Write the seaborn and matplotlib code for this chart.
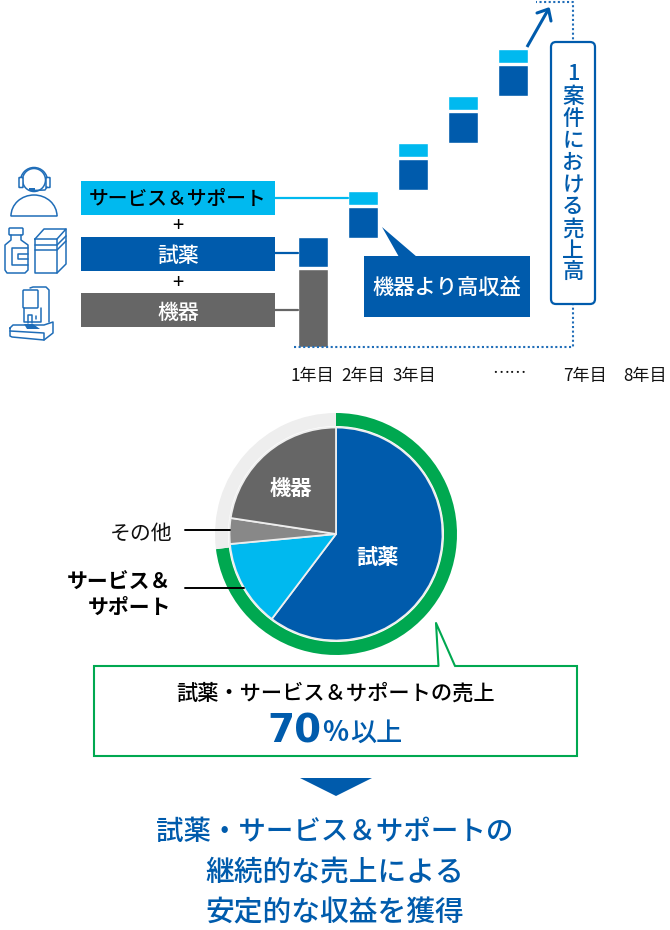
import matplotlib
matplotlib.use("Agg")
import matplotlib.pyplot as plt
from matplotlib.patches import Rectangle, Polygon, FancyBboxPatch, Circle, Arc
import seaborn as sns

sns.set_style("white")
plt.rcParams['font.family'] = ['Noto Sans CJK JP', 'DejaVu Sans']

BLUE = "#005BAC"
CYAN = "#00B9EF"
GRAY = "#666666"
MID = "#888888"
GREEN = "#00A850"
LIGHT = "#EEEEEE"
LINE = "#1F6DB8"
AMP = "\uff06"

# data
bar_years = ["1年目", "2年目", "3年目", "4年目", "5年目"]
base_sales = [0, 109, 157, 204, 251]
device_sales = [78, 0, 0, 0, 0]
reagent_sales = [30, 31, 31, 31, 31]
service_sales = [0, 14, 14, 14, 14]
axis_labels = ["1年目", "2年目", "3年目", "……", "7年目", "8年目"]
pie_labels = ["試薬", "サービス" + AMP + "サポート", "その他", "機器"]
pie_values = [60.3, 13.2, 3.9, 22.6]
ring_values = [73, 27]

W, H = 670, 930
fig = plt.figure(figsize=(W / 100, H / 100), dpi=100, facecolor="white")

# overlay in pixel coordinates, above the bars and the pie
ov = fig.add_axes([0, 0, 1, 1], zorder=3)
ov.set_xlim(0, W); ov.set_ylim(H, 0); ov.axis("off")

def T(x, y, s, size=14, color="black", weight=500, ha="center", va="center", zorder=5, **kw):
    return ov.text(x, y + 0.1 * size, s, fontsize=size, color=color, fontweight=weight,
                   ha=ha, va=va, zorder=zorder, **kw)

def rect(x0, y0, x1, y1, **kw):
    ov.add_patch(Rectangle((x0, y0), x1 - x0, y1 - y0, **kw))

# dotted guide
dot = dict(color=LINE, lw=1.5, linestyle=(0, (1, 1.2)), zorder=1)
ov.plot([294, 573, 573, 536], [347.5, 347.5, 2, 2], **dot)

# legend bars
for y0, col in zip([181, 237, 293], [CYAN, BLUE, GRAY]):
    rect(81, y0, 275, y0 + 34, fc=col, ec="none")
T(178, 198, "サービス" + AMP + "サポート", 14.2)
T(178, 254, "試薬", 15, "white")
T(178, 311, "機器", 15, "white")
T(178, 224, "+", 14.5, weight=400); T(178, 281, "+", 14.5, weight=400)
ov.plot([275, 348], [198, 198], color=CYAN, lw=1.6, zorder=1)
ov.plot([275, 298], [253, 253], color=BLUE, lw=1.6, zorder=1)
ov.plot([275, 298], [310, 310], color=GRAY, lw=1.6, zorder=1)

# bars
ab = fig.add_axes([288 / W, 1 - 347.5 / H, 250 / W, 347.5 / H], zorder=2)
ab.patch.set_alpha(0)
gap = 2
dev_top = [b + d for b, d in zip(base_sales, device_sales)]
rea_bot = [t + gap if d else t for t, d in zip(dev_top, device_sales)]
rea_top = [b + r for b, r in zip(rea_bot, reagent_sales)]
srv_bot = [t + gap for t in rea_top]
sns.barplot(x=bar_years, y=device_sales, bottom=base_sales, color=GRAY, saturation=1, width=0.6, errorbar=None, ax=ab)
sns.barplot(x=bar_years, y=reagent_sales, bottom=rea_bot, color=BLUE, saturation=1, width=0.6, errorbar=None, ax=ab)
sns.barplot(x=bar_years, y=service_sales, bottom=srv_bot, color=CYAN, saturation=1, width=0.6, errorbar=None, ax=ab)
ab.set_xlim(-0.5, 4.5); ab.set_ylim(0, 347.5)
ab.axis("off")

for x, s in zip([312, 363, 414, 510, 585, 645], axis_labels):
    T(x, 375 if s != "……" else 373, s, 12.3, "#111111", 400)

# arrow
ov.plot([527, 548], [47, 10], color=BLUE, lw=2.2, zorder=3, solid_capstyle="butt")
ov.plot([537, 548.5, 551], [13, 9, 21], color=BLUE, lw=2.2, zorder=3)

# vertical label
ov.add_patch(FancyBboxPatch((555, 46), 36, 254, boxstyle="round,pad=4,rounding_size=5",
                            fc="white", ec=BLUE, lw=1.6, zorder=3))
T(573, 72.5, "1", 15.5, BLUE)
for i, ch in enumerate("案件における売上高"):
    T(573, 95 + 22.1 * i, ch, 15.5, BLUE)

# callout
rect(364, 256, 530, 317, fc=BLUE, ec="none", zorder=2)
ov.add_patch(Polygon([(382, 227), (399, 257), (417, 257)], fc=BLUE, ec="none", zorder=2))
T(447, 286, "機器より高収益", 15.3, "white")

# icons
ik = dict(color=LINE, lw=1.1, zorder=4)
ov.add_patch(Circle((34, 180), 11.5, fc="none", ec=LINE, lw=1.1))
ov.add_patch(Arc((34, 181), 27, 27, theta1=180, theta2=360, ec=LINE, lw=1.1))
for x0 in (19, 46):
    ov.add_patch(FancyBboxPatch((x0 + .5, 178), 3, 9, boxstyle="round,pad=0.5", fc="white", ec=LINE, lw=1.1))
ov.plot([47, 45, 33], [187, 190, 190.5], **ik)
ov.add_patch(Rectangle((29, 188.5), 6, 2.5, fc=LINE, ec="none"))
ov.add_patch(Arc((34, 216), 46, 42, theta1=180, theta2=360, ec=LINE, lw=1.1))
ov.plot([11, 57], [216, 216], **ik)
# bottle
ov.add_patch(FancyBboxPatch((10, 229), 12, 5, boxstyle="round,pad=1", fc="none", ec=LINE, lw=1.1))
ov.plot([11, 11, 5, 5, 7, 25, 28, 28, 21, 21], [235, 240, 245, 270, 273, 273, 270, 245, 240, 235], **ik)
ov.plot([28, 12, 12, 28], [248, 248, 265, 265], **ik)
ov.plot([28, 18, 18, 28], [254, 254, 259, 259], **ik)
# box
ov.plot([35, 35, 57, 57, 35], [239, 273, 273, 239, 239], **ik)
ov.plot([35, 44, 66, 57], [239, 229, 229, 239], **ik)
ov.plot([66, 66, 57], [229, 264, 273], **ik)
ov.plot([35, 57, 66], [245, 245, 236], **ik)
ov.plot([35, 57, 66], [250, 250, 241], **ik)
# instrument
ov.add_patch(FancyBboxPatch((24, 291), 13, 16, boxstyle="round,pad=1", fc="none", ec=LINE, lw=1.1))
ov.plot([30, 33, 46, 49, 49], [288, 287, 287, 290, 322], **ik)
ov.plot([24, 24, 41, 41], [308, 322, 322, 308], **ik)
ov.plot([28, 28, 32, 32], [323, 315, 315, 323], **ik)
ov.plot([36, 36], [316, 319], **ik)
ov.plot([10, 13, 44, 53, 53, 44, 12, 10, 10], [328, 325, 325, 322, 333, 340, 337, 336, 328], **ik)
ov.plot([10, 44, 44], [331, 333, 340], **ik)
ov.add_patch(Polygon([(24, 324), (33, 324), (40, 329), (27, 329)], fc=LINE, ec="none", zorder=4))

# pie
cx, cy, R = 336, 534, 130
ap = fig.add_axes([(cx - R) / W, 1 - (cy + R) / H, 2 * R / W, 2 * R / H], zorder=2)
ap.patch.set_alpha(0)
ap.pie(ring_values, radius=121, startangle=90, counterclock=False, colors=[GREEN, LIGHT],
       wedgeprops=dict(width=13, linewidth=0))
ap.pie(pie_values, radius=106.5, startangle=90, counterclock=False,
       colors=[BLUE, CYAN, MID, GRAY], wedgeprops=dict(edgecolor="#EEEEEE", linewidth=1.3))
ap.set_xlim(-R, R); ap.set_ylim(-R, R); ap.set_aspect("equal")
T(378, 556, "試薬", 15.3, "white", 700)
T(291, 487, "機器", 15.3, "white", 700)

T(172, 532, "その他", 15, "#111111", 400, ha="right")
T(171, 581, "サービス" + AMP, 15, "black", 700, ha="right")
T(171, 606, "サポート", 15, "black", 700, ha="right")
ov.plot([185, 230], [530, 530], color="black", lw=1.4, zorder=5)
ov.plot([185, 244], [588, 588], color="black", lw=1.4, zorder=5)

# green box
rect(94, 666, 577, 756, fc="white", ec=GREEN, lw=1.5, zorder=1)
ov.add_patch(Polygon([(438.5, 667), (436, 623), (455, 667)], fc="white", ec="none", zorder=1.5, closed=False))
ov.plot([438.5, 436, 455], [666, 623, 666], color=GREEN, lw=1.5, zorder=1.6)
rect(439, 663, 454, 668, fc="white", ec="none", zorder=1.5)
T(336, 692, "試薬・サービス" + AMP + "サポートの売上", 15.3)
ov.text(321, 742, "70", fontsize=28, color=BLUE, fontweight=700, ha="right", va="baseline",
        family="DejaVu Sans", zorder=5)
T(322, 731, "%", 19.5, BLUE, 700, ha="left")
T(350, 731, "以上", 18.8, BLUE, 500, ha="left")

# arrow down and closing text
ov.add_patch(Polygon([(300, 778), (372, 778), (336, 796)], fc=BLUE, ec="none"))
T(335, 829, "試薬・サービス" + AMP + "サポートの", 19.8, BLUE)
T(335, 870, "継続的な売上による", 20.7, BLUE)
T(335, 911, "安定的な収益を獲得", 20.7, BLUE)

fig.savefig("out.png", dpi=100, facecolor="white")
